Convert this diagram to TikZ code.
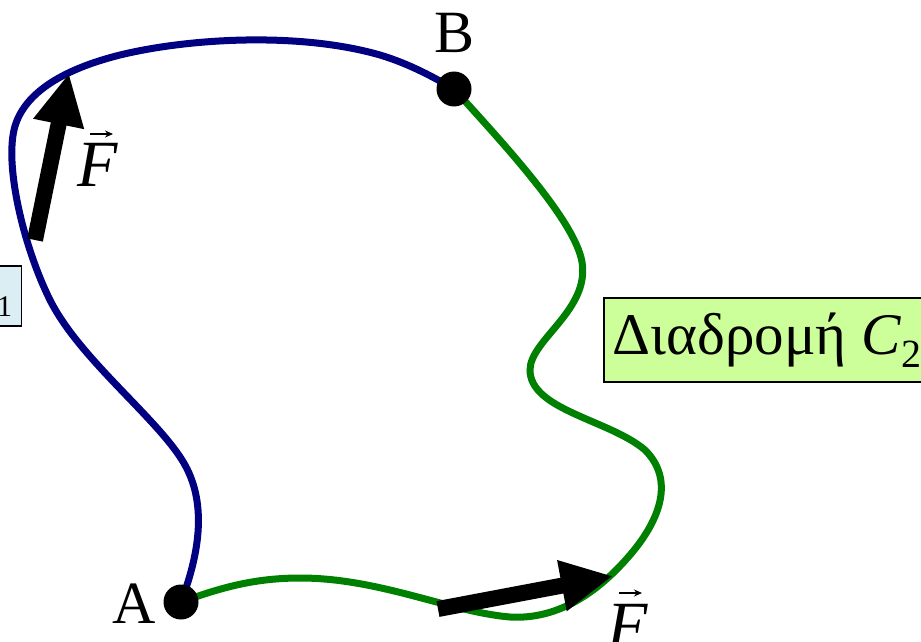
\documentclass[tikz,border=0pt]{standalone}
\usepackage{fontspec}
\setmainfont{Liberation Serif}
\usetikzlibrary{arrows.meta}
\definecolor{bluepath}{RGB}{0,0,128}
\definecolor{greenpath}{RGB}{0,128,0}
\definecolor{boxgreen}{RGB}{204,255,153}
\definecolor{boxblue}{RGB}{218,238,243}
\tikzset{
  pathline/.style={line width=7pt},
  forcearrow/.style={line width=16pt,-{Triangle[length=52pt,width=48pt]}},
  dot/.style={circle,fill=black,inner sep=0pt,minimum size=35pt},
  lbl/.style={font=\fontsize{60}{66}\selectfont,inner sep=0pt},
  flbl/.style={font=\fontsize{66}{70}\selectfont\itshape,inner sep=0pt},
  vecarrow/.style={line width=1.8pt,-{Stealth[length=8pt,width=7pt]}},
  pathbox/.style={draw=black,line width=1.5pt,font=\fontsize{59}{64}\selectfont,inner xsep=9pt,inner ysep=10pt,minimum height=84pt}
}
\begin{document}
\begin{tikzpicture}[x=1pt,y=-1pt]
\useasboundingbox (0,0) rectangle (921,642);
\clip (0,0) rectangle (921,642);
% blue path C1
\draw[pathline,bluepath] (181,602) .. controls (195,565) and (210,510) .. (185,465)
  .. controls (160,420) and (80,360) .. (50,300)
  .. controls (25,250) and (5,170) .. (14,130)
  .. controls (22,95) and (60,70) .. (120,55)
  .. controls (190,38) and (300,32) .. (380,55)
  .. controls (410,64) and (435,78) .. (454,89);
% green path C2
\draw[pathline,greenpath] (454,89) .. controls (500,140) and (575,220) .. (582,262)
  .. controls (590,310) and (530,340) .. (530,370)
  .. controls (530,410) and (610,420) .. (645,450)
  .. controls (675,480) and (660,520) .. (630,555)
  .. controls (600,590) and (560,620) .. (510,617)
  .. controls (450,612) and (380,578) .. (300,578)
  .. controls (250,578) and (215,590) .. (181,602);
\node[dot] (A) at (181,602) {};
\node[dot] (B) at (454,89) {};
\node[lbl,anchor=east] (Alab) at (156,604) {A};
\node[lbl] (Blab) at (455,33) {B};
% force arrows
\coordinate (f1s) at (35,240);
\coordinate (f1e) at (69,73);
\draw[forcearrow] (f1s) -- (f1e);
\coordinate (f2s) at (438,609);
\coordinate (f2e) at (613,576);
\draw[forcearrow] (f2s) -- (f2e);
\node[flbl,anchor=north] (F1) at (98,143) {F};
\draw[vecarrow] ([xshift=-8pt,yshift=9pt]F1.north) -- ++(23,0);
\node[flbl,anchor=north] (F2) at (628,604) {F};
\draw[vecarrow] ([xshift=-9pt,yshift=11pt]F2.north) -- ++(23,0);
% boxes
\node[pathbox,fill=boxgreen,anchor=north west] (C2) at (603,297) {Διαδρομή \textit{C}\raisebox{-0.22em}{\fontsize{40}{44}\selectfont 2}};
\node[pathbox,fill=boxblue,anchor=north east,minimum height=60pt,font=\fontsize{44}{48}\selectfont,inner ysep=4pt] (C1) at (22,265) {Διαδρομή \textit{C}\raisebox{-0.22em}{\fontsize{30}{33}\selectfont 1}};
\end{tikzpicture}
\end{document}
